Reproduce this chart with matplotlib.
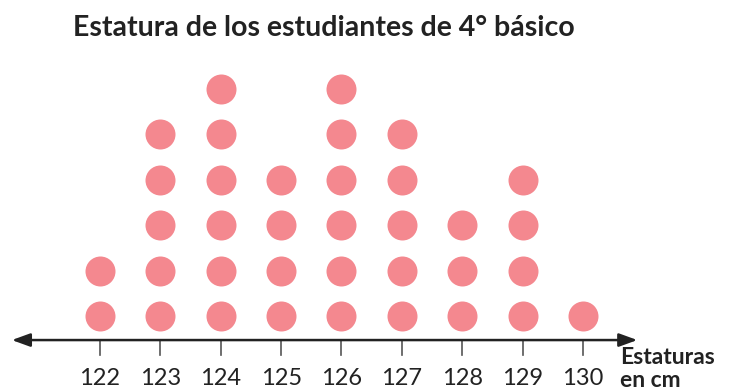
import matplotlib.pyplot as plt

estaturas = [122, 123, 124, 125, 126, 127, 128, 129, 130]
estudiantes = [2, 5, 6, 4, 6, 5, 3, 4, 1]
titulo = "Estatura de los estudiantes de 4° básico"

plt.rcParams['font.family'] = ['Lato', 'DejaVu Sans']

fig = plt.figure(figsize=(7.37, 3.92), dpi=100)
ax = fig.add_axes([0, 0, 1, 1])
ax.set_xlim(120.344, 132.551)
ax.set_ylim(-0.674, 7.96)
ax.axis('off')

dot_color = '#F4888F'
for x, n in zip(estaturas, estudiantes):
    ys = list(range(1, n + 1))
    ax.plot([x] * n, ys, 'o', color=dot_color, markersize=21.6, markeredgewidth=0)

# eje con flechas
ax.annotate('', xy=(120.54, 0.47), xytext=(130.9, 0.47),
            arrowprops=dict(arrowstyle='<|-|>,head_length=1.1,head_width=0.4',
                            color='#222222', lw=1.8, shrinkA=0, shrinkB=0))

for x in estaturas:
    ax.plot([x, x], [0.47, 0.14], color='#555555', lw=1.2)
    ax.text(x, -0.37, str(x), ha='center', va='center', fontsize=17, color='#222222')

ax.text(130.61, 0.08, "Estaturas", ha='left', va='center', fontsize=16.5,
        fontweight='bold', color='#222222')
ax.text(130.61, -0.42, "en cm", ha='left', va='center', fontsize=16.5,
        fontweight='bold', color='#222222')

fig.text(0.439, 0.928, titulo, ha='center', va='center', fontsize=20.5,
         fontweight='bold', color='#222222')

fig.savefig('out.png', dpi=100)
